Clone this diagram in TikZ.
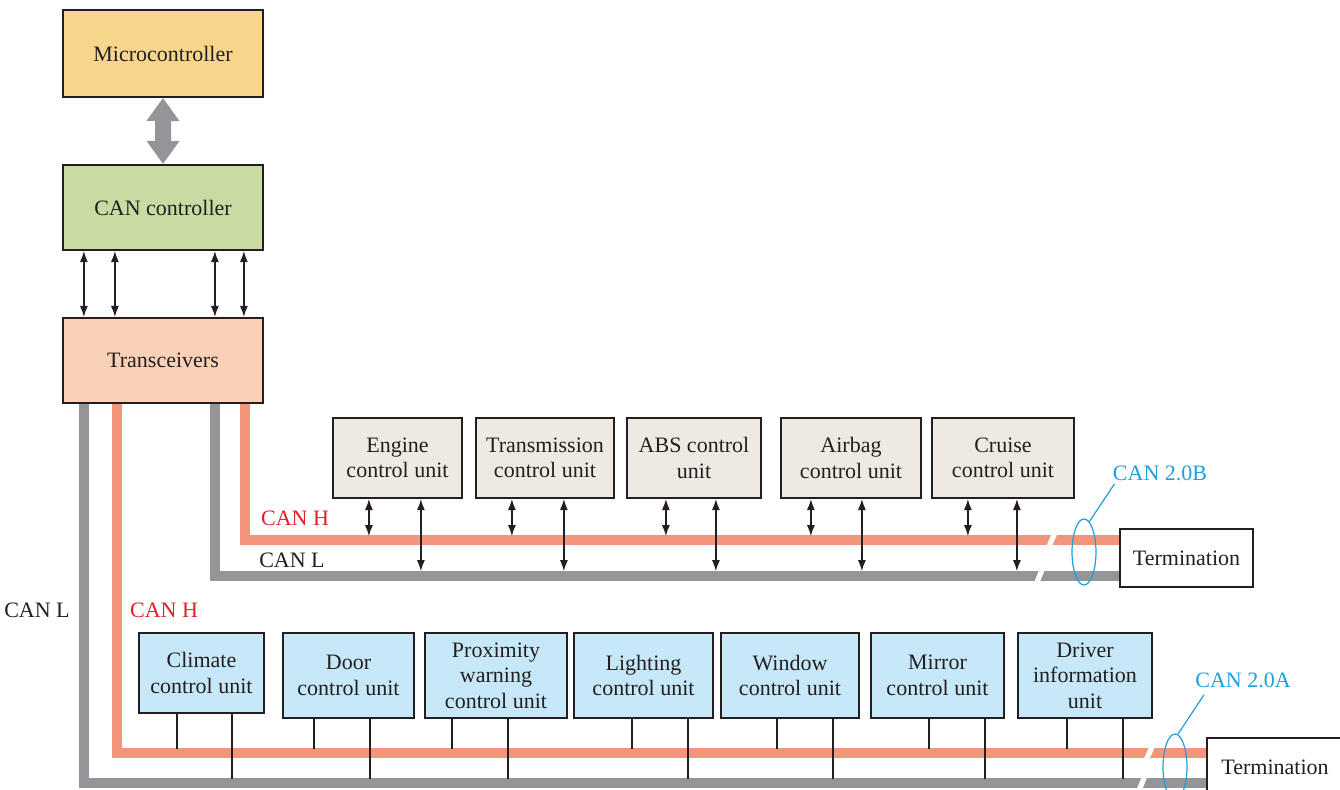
\documentclass[tikz,border=0pt]{standalone}
\usepackage{fontspec}
\setmainfont{Liberation Serif}
\usetikzlibrary{arrows.meta,calc,shapes.geometric}
\pgfdeclarelayer{background}
\pgfsetlayers{background,main}
\definecolor{microc}{RGB}{248,214,140}
\definecolor{cancol}{RGB}{199,219,163}
\definecolor{transc}{RGB}{251,208,184}
\definecolor{ecuc}{RGB}{238,234,225}
\definecolor{bodyc}{RGB}{198,232,248}
\definecolor{busH}{RGB}{242,149,122}
\definecolor{busL}{RGB}{147,149,153}
\definecolor{cyanc}{RGB}{30,160,220}
\definecolor{redc}{RGB}{228,30,40}
\definecolor{inkc}{RGB}{35,31,32}
\begin{document}
\begin{tikzpicture}[x=0.5pt,y=-0.5pt,
  txt/.style={font=\fontsize{11}{12.8}\selectfont, text=inkc},
  box/.style={txt, draw=inkc, line width=1.1pt, inner sep=0pt, align=center},
  bigbox/.style={box, minimum width=100pt},
  ecu/.style={box, fill=ecuc, minimum height=40pt},
  body/.style={box, fill=bodyc, minimum height=42.5pt},
  termbox/.style={txt, draw=inkc, line width=0.7pt, fill=white, inner sep=0pt, minimum height=29pt},
  busHs/.style={draw=busH, line width=5pt, line join=miter},
  busLs/.style={draw=busL, line width=5pt, line join=miter},
  brk/.style={draw=white, line width=2.6pt},
  sarr/.style={draw=inkc, line width=0.6pt, {Latex[length=5.5pt,width=4pt]}-{Latex[length=5.5pt,width=4pt]}},
  tap/.style={draw=inkc, line width=0.6pt},
  lab/.style={txt, inner sep=0pt},
  clab/.style={lab, text=cyanc},
  ring/.style={ellipse, draw=cyanc, line width=0.6pt, minimum width=12pt, minimum height=33pt, inner sep=0pt},
  lead/.style={draw=cyanc, line width=0.6pt}]
\useasboundingbox (0,0) rectangle (1340,790);
\clip (0,0) rectangle (1340,790);

% top stack
\node[bigbox, fill=microc, minimum height=43.5pt] (micro) at (163,53.5) {Microcontroller};
\node[bigbox, fill=cancol, minimum height=42.5pt] (canc) at (163,207.5) {CAN controller};
\node[bigbox, fill=transc, minimum height=42.5pt] (trans) at (163,360.5) {Transceivers};

% termination boxes
\node[termbox, minimum width=66.5pt] (term1) at (1186.5,558) {Termination};
\node[termbox, minimum width=68pt] (term2) at (1275,767) {Termination};

% helper coordinates for bus lines
\coordinate (xHa) at (245,0);
\coordinate (xLa) at (215,0);
\coordinate (xLb) at (84,0);
\coordinate (xHb) at (117,0);
\coordinate (yHa) at (0,540);
\coordinate (yLa) at (0,576);
\coordinate (yHb) at (0,753);
\coordinate (yLb) at (0,783);

% buses (behind the boxes)
\begin{pgfonlayer}{background}
\fill[white] (0,0) rectangle (1340,790);
\draw[busLs] (trans.south -| xLb) -- (xLb |- yLb) -- (term2.west |- yLb);
\draw[busHs] (trans.south -| xHb) -- (xHb |- yHb) -- (term2.west |- yHb);
\draw[busLs] (trans.south -| xLa) -- (xLa |- yLa) -- (term1.west |- yLa);
\draw[busHs] (trans.south -| xHa) -- (xHa |- yHa) -- (term1.west |- yHa);
% breaks
\draw[brk] (1055.4,532) -- (1048.2,548);
\draw[brk] (1042.7,568) -- (1036.3,584);
\draw[brk] (1152.9,745) -- (1145.7,761);
\draw[brk] (1145.2,775) -- (1138.8,791);
\end{pgfonlayer}

% big double arrow
\fill[busL] (micro.south) -- ++(16.5,23) -- ++(-8.5,0) -- ++(0,20) -- ++(8.5,0)
  -- (canc.north) -- ++(-16.5,-23) -- ++(8.5,0) -- ++(0,-20) -- ++(-8.5,0) -- cycle;

% controller - transceiver arrows
\foreach \o in {22,53,153,182}
  \draw[sarr] ($(canc.south west)+(\o,0)$) -- ($(trans.north west)+(\o,0)$);

% CAN 2.0B units
\node[ecu, minimum width=64.5pt] (engine) at (397.5,458) {Engine\\control unit};
\node[ecu, minimum width=69pt] (tcu) at (545,458) {Transmission\\control unit};
\node[ecu, minimum width=67pt] (abs) at (694,458) {ABS control\\unit};
\node[ecu, minimum width=70pt] (airbag) at (851,458) {Airbag\\control unit};
\node[ecu, minimum width=71pt] (cruise) at (1003,458) {Cruise\\control unit};
\foreach \n/\a/\b in {engine/37/89, tcu/37/89, abs/40/90, airbag/31/82, cruise/37/86} {
  \draw[sarr] ($(\n.south west)+(\a,0)$) -- ++(0,37);
  \draw[sarr] ($(\n.south west)+(\b,0)$) -- ++(0,72);
}

% CAN 2.0A units
\node[body, minimum width=62.5pt, minimum height=40pt] (climate) at (201.5,673) {Climate\\control unit};
\node[body, minimum width=65.5pt] (door) at (348.5,675.5) {Door\\control unit};
\node[body, minimum width=71pt] (prox) at (496,675.5) {Proximity\\warning\\control unit};
\node[body, minimum width=69.5pt] (light) at (643.5,675.5) {Lighting\\control unit};
\node[body, minimum width=69pt] (window) at (790,675.5) {Window\\control unit};
\node[body, minimum width=66.5pt] (mirror) at (937.5,675.5) {Mirror\\control unit};
\node[body, minimum width=67pt] (driver) at (1085,675.5) {Driver\\information\\unit};
\foreach \n/\a/\b/\la/\lb in {climate/39/94/35/65, door/32/88/30/60, prox/28/84/30/60,
    light/59/115/30/60, window/57/113/30/60, mirror/59/115/30/60, driver/50/106/30/60} {
  \draw[tap] ($(\n.south west)+(\a,0)$) -- ++(0,\la);
  \draw[tap] ($(\n.south west)+(\b,0)$) -- ++(0,\lb);
}

% rings and labels
\node[ring] (ring1) at (1084,552) {};
\node[ring] (ring2) at (1175,767) {};
\node[clab] (lab2B) at (1160,473) {CAN 2.0B};
\node[clab] (lab2A) at (1243,680) {CAN 2.0A};
\draw[lead] ([xshift=1pt,yshift=-1.5pt]lab2B.south west) -- (ring1.80);
\draw[lead] ([xshift=4.5pt,yshift=-3.5pt]lab2A.south west) -- (ring2.85);

\node[lab, text=redc] (hU) at (295,518) {CAN H};
\node[lab] (lU) at (292,560) {CAN L};
\node[lab, text=redc] (hB) at (164,610) {CAN H};
\node[lab] (lB) at (37,610) {CAN L};
\end{tikzpicture}
\end{document}
